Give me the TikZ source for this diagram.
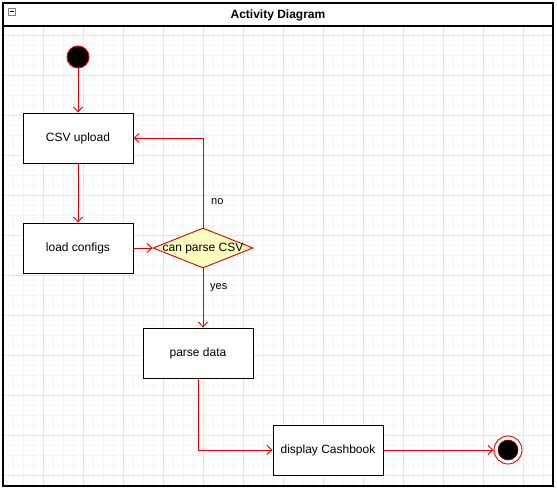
\documentclass[tikz,border=0pt]{standalone}
\usepackage{fontspec}
\setmainfont{Liberation Sans}
\usetikzlibrary{arrows.meta,shapes.geometric}
\definecolor{flowred}{HTML}{E00000}
\definecolor{decfill}{HTML}{FFFFC0}
\definecolor{gridminor}{HTML}{F5F5F5}
\definecolor{gridmajor}{HTML}{E4E4E4}
\tikzset{
  actbox/.style={draw=black, line width=0.9pt, fill=white, minimum width=110pt, minimum height=50pt, inner sep=0pt, text height=9pt, text depth=1.5pt, font=\fontsize{12}{14}\selectfont},
  decnode/.style={diamond, draw=flowred, fill=decfill, line width=0.9pt, minimum width=100pt, minimum height=40pt, inner sep=0pt},
  flow/.style={draw=flowred, line width=0.9pt, -{Straight Barb[length=5pt,width=9pt]}},
  edgelabel/.style={anchor=west, inner sep=0pt, font=\fontsize{11}{13}\selectfont},
}
\begin{document}
\begin{tikzpicture}[x=1pt,y=-1pt]
\useasboundingbox (0,0) rectangle (557,489);
% grid
\begin{scope}
\clip (3,3) rectangle (553,486);
\foreach \gx in {3,13,...,553} \draw[gridminor, line width=0.6pt] (\gx,3) -- (\gx,486);
\foreach \gy in {5,15,...,485} \draw[gridminor, line width=0.6pt] (3,\gy) -- (553,\gy);
\foreach \gx in {3,43,...,553} \draw[gridmajor, line width=0.6pt] (\gx,3) -- (\gx,486);
\foreach \gy in {35,75,...,485} \draw[gridmajor, line width=0.6pt] (3,\gy) -- (553,\gy);
\end{scope}
% frame and title bar
\draw[fill=white, line width=1.3pt] (3,3) rectangle (553,26);
\draw[line width=1.3pt] (3,3) rectangle (553,486);
\node[font=\bfseries\fontsize{12}{14}\selectfont] (title) at (278,15) {Activity Diagram};
\draw[gray, line width=0.6pt, fill=white] (8,8) rectangle (15,15);
\draw[black, line width=0.7pt] (9.5,11.5) -- (13.5,11.5);
% nodes
\node[circle, draw=flowred, fill=black, line width=0.9pt, minimum size=22pt, inner sep=0pt] (start) at (78,57) {};
\node[actbox] (csv) at (78,138) {CSV upload};
\node[actbox] (load) at (78,248) {load configs};
\node[decnode, label={[font=\fontsize{12}{14}\selectfont, text height=9pt, text depth=1.5pt]center:can parse CSV}] (dec) at (203,248) {};
\node[actbox] (parse) at (198,353) {parse data};
\node[actbox] (disp) at (328,450) {display Cashbook};
\node[circle, draw=flowred, fill=white, line width=0.9pt, minimum size=28pt, inner sep=0pt] (end) at (508,450) {};
\node[circle, draw=flowred!60!black, fill=black, line width=0.6pt, minimum size=20pt, inner sep=0pt] (endin) at (508,450) {};
% connectors
\draw[flow] (start) -- (csv);
\draw[flow] (csv) -- (load);
\draw[flow] (load) -- (dec);
\draw[flow] (dec.north) |- (csv.east);
\draw[flow] (dec.south) -- (dec.south |- parse.north);
\draw[flow] (parse.south) |- (disp.west);
\draw[flow] (disp) -- (end);
% labels
\node[edgelabel] (nolab) at (211,202) {no};
\node[edgelabel] (yeslab) at (210,288) {yes};
\end{tikzpicture}
\end{document}
